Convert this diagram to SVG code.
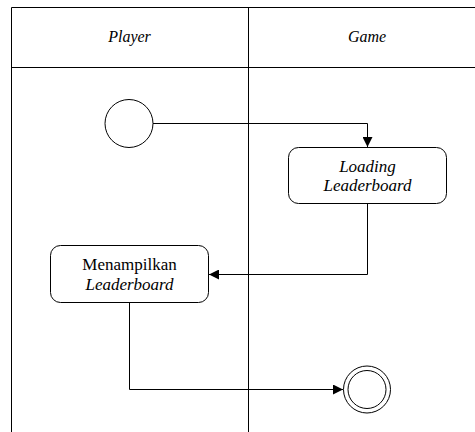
<svg xmlns="http://www.w3.org/2000/svg" width="475" height="432" viewBox="0 0 475 432">
  <style>
    .lane { fill: none; stroke: #000; stroke-width: 1; }
    .node { fill: #fff; stroke: #000; stroke-width: 1; }
    .lbl { font-family: 'Liberation Serif', 'Times New Roman', serif; font-size: 16px; fill: #000; text-anchor: middle; }
    .big { font-size: 17px; }
    .it { font-style: italic; }
    .edge { fill: none; stroke: #000; stroke-width: 1; }
  </style>
  <defs>
    <marker id="arrow" viewBox="0 0 10 10" refX="10" refY="5" markerWidth="10" markerHeight="10" markerUnits="userSpaceOnUse" orient="auto">
      <path d="M0,0 L10,5 L0,10 Z" fill="#000"/>
    </marker>
  </defs>
  <rect width="475" height="432" fill="#fff"/>

  <!-- swimlanes -->
  <g id="lanes">
    <path class="lane" d="M11.5,440 V7.5 H490 M11.5,67.5 H490 M248.5,7.5 V440"/>
    <text class="lbl it" x="129.5" y="42">Player</text>
    <text class="lbl it" x="367" y="42">Game</text>
  </g>

  <!-- connectors -->
  <g id="connectors">
    <path class="edge" d="M153,123.5 H367.5 V147" marker-end="url(#arrow)"/>
    <path class="edge" d="M367.5,204 V274.5 H209" marker-end="url(#arrow)"/>
    <path class="edge" d="M129.5,303 V389.5 H343" marker-end="url(#arrow)"/>
  </g>

  <g id="start">
    <circle class="node" cx="129" cy="123.5" r="24"/>
  </g>

  <g id="loading">
    <rect class="node" x="288.5" y="147.5" width="158" height="56" rx="10"/>
    <text class="lbl big it" x="367.5" y="172">Loading</text>
    <text class="lbl big it" x="367.5" y="191">Leaderboard</text>
  </g>

  <g id="menampilkan">
    <rect class="node" x="50.5" y="245.5" width="158" height="57" rx="10"/>
    <text class="lbl big" x="129.5" y="270">Menampilkan</text>
    <text class="lbl big it" x="129.5" y="290">Leaderboard</text>
  </g>

  <g id="end">
    <circle class="node" cx="367" cy="389.5" r="23.5"/>
    <circle class="node" cx="367" cy="389.5" r="19"/>
  </g>
</svg>
